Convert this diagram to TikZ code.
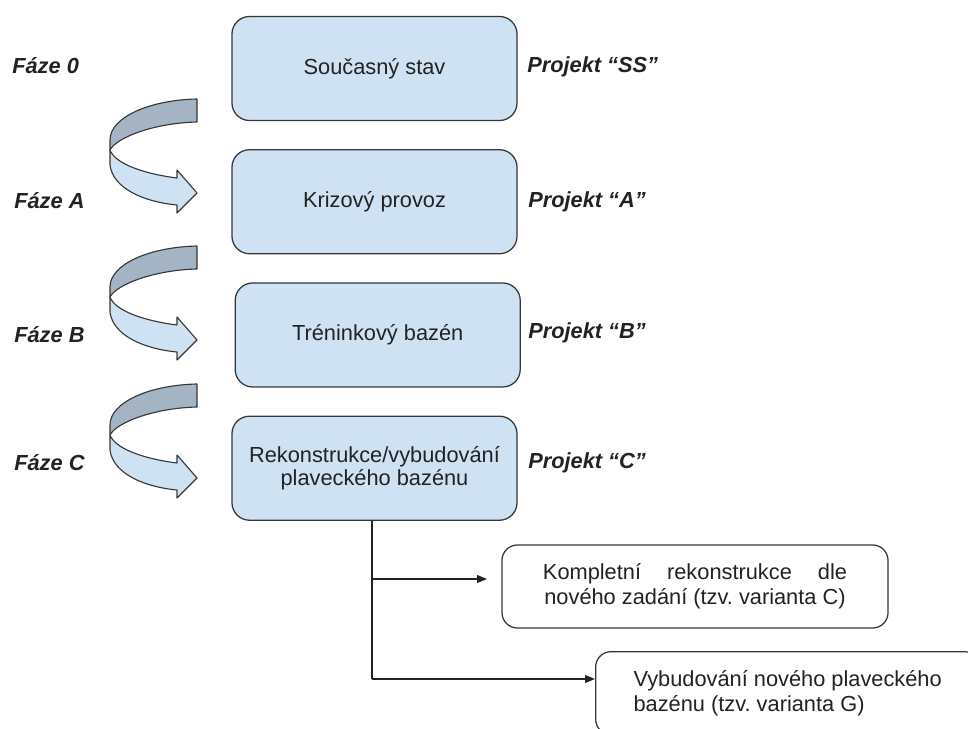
\documentclass[tikz,border=0pt]{standalone}
\usepackage{fontspec}
\setmainfont{Liberation Sans}
\usetikzlibrary{arrows.meta}
\definecolor{boxblue}{RGB}{207,226,243}
\definecolor{ribbon}{RGB}{164,180,196}
\definecolor{edge}{RGB}{55,55,55}
\definecolor{ink}{RGB}{34,34,34}
\frenchspacing

\begin{document}
\begin{tikzpicture}[x=0.025cm, y=-0.025cm, node distance=3.33cm,
    stage/.style={draw=edge, fill=boxblue, line width=0.9pt, rounded corners=12.5pt,
      minimum width=7.125cm, minimum height=2.6cm, align=center, text=ink,
      font=\fontsize{15.5}{16.5}\selectfont},
    option/.style={draw=edge, line width=0.9pt, rounded corners=11pt,
      minimum height=2.075cm, text=ink, font=\fontsize{15.5}{17.8}\selectfont},
    phase/.style={anchor=base west, text=ink, inner sep=0pt,
      font=\fontsize{15.5}{18}\selectfont\bfseries\itshape},
    conn/.style={draw=ink, line width=0.85pt, -{Triangle[length=7pt,width=5.5pt]}}]
    \useasboundingbox (0,0) rectangle (968,729);
    \clip (0,0) rectangle (968,729);

    % stages
    \node(s0)[stage] at (374.5,68.5) {Současný stav};
    \node(sA)[stage, below of=s0] {Krizový provoz};
    \node(sB)[stage, below of=sA, xshift=0.08cm] {Tréninkový bazén};
    \node(sC)[stage, below of=sB, xshift=-0.08cm] {Rekonstrukce/vybudování\\plaveckého bazénu};

    % phases and projects
    \node(f0)[phase] at (12,74) {Fáze 0};
    \node(fA)[phase] at (14,208) {Fáze A};
    \node(fB)[phase] at (14,342) {Fáze B};
    \node(fC)[phase] at (14,470) {Fáze C};
    \node(p0)[phase] at (527,73) {Projekt “SS”};
    \node(pA)[phase] at (528,207) {Projekt “A”};
    \node(pB)[phase] at (528,338) {Projekt “B”};
    \node(pC)[phase] at (528,468) {Projekt “C”};

    % curved arrows
    \foreach \t in {99,246,384} {
      \begin{scope}[shift={(0,\t)}]
        \filldraw[fill=ribbon, draw=edge, line width=0.8pt, line join=round]
          (197,0) .. controls (150,1) and (110,18) .. (110,41) -- (110,51)
          .. controls (117,38) and (155,24) .. (197,23) -- cycle;
        \filldraw[fill=boxblue, draw=edge, line width=0.8pt, line join=round]
          (110,51) -- (110,66) .. controls (113,90) and (145,103) .. (177,106)
          -- (177,114) -- (197,94) -- (177,71) -- (177,79)
          .. controls (145,75) and (115,65) .. (110,51) -- cycle;
      \end{scope}
    }

    % variants
    \node(o1)[option, minimum width=9.65cm, align=center] at (695,586.5)
      {\makebox[7.6cm][s]{Kompletní rekonstrukce dle}\\nového zadání (tzv. varianta C)};
    \node(o2)[option, minimum width=9.6cm, anchor=north west, align=left] at (595,651)
      {Vybudování nového plaveckého\\bazénu (tzv. varianta G)};

    \coordinate(k1) at (372,579);
    \coordinate(e1) at (487,579);
    \coordinate(k2) at (372,679);
    \draw[draw=ink, line width=0.85pt] (sC.south -| k1) -- (k2);
    \draw[conn] (k1) -- (e1);
    \draw[conn] (k2) -- (k2 -| o2.west);
\end{tikzpicture}
\end{document}
